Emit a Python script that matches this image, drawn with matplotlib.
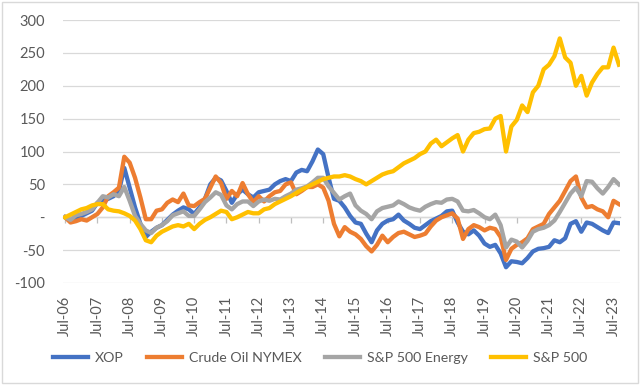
import numpy as np
import matplotlib
matplotlib.use("Agg")
import matplotlib.pyplot as plt
from matplotlib.ticker import FuncFormatter
from matplotlib.patches import Rectangle

plt.rcParams['font.family'] = ['Lato', 'DejaVu Sans']

# months since Jul-06, one value every 2 months (Jul-06 .. Sep-23)
months = np.arange(0, 207, 2)

xop = [0, -6, -2, 2, 6, 10, 22, 25, 28, 32, 40, 75,
       45, 15, -10, -30, -22, -16, -12, -4, 4, 10, 15, 12,
       5, 15, 28, 50, 60, 56, 40, 22, 35, 42, 35, 30,
       38, 40, 42, 50, 55, 58, 55, 68, 72, 70, 85, 103,
       96, 60, 28, 25, 15, 2, -8, -10, -25, -38, -20, -10,
       -5, -3, 4, -5, -10, -16, -18, -12, -6, -2, 2, 9,
       10, -8, -22, -26, -20, -28, -40, -45, -42, -55, -76, -67,
       -68, -70, -62, -52, -48, -47, -45, -35, -38, -32, -10, -6,
       -22, -8, -10, -15, -20, -24, -8, -9]

crude = [0, -8, -6, -3, -5, 0, 5, 15, 32, 38, 45, 92,
         83, 60, 30, -3, -3, 10, 12, 22, 27, 23, 36, 18,
         17, 23, 28, 45, 62, 52, 28, 40, 32, 52, 35, 23,
         32, 24, 32, 38, 40, 50, 53, 35, 40, 46, 46, 50,
         45, 25, -10, -29, -15, -22, -26, -33, -44, -52, -42, -28,
         -38, -30, -24, -22, -26, -30, -28, -25, -14, -5, 0, 3,
         6, -2, -33, -18, -12, -15, -20, -16, -18, -30, -65, -48,
         -42, -38, -32, -18, -14, -10, 5, 15, 25, 40, 55, 62,
         30, 15, 17, 12, 9, 0, 25, 20]

energy = [0, -4, 3, 5, 8, 12, 22, 32, 30, 35, 32, 46,
          25, 2, -10, -20, -24, -16, -12, -6, 3, 6, 9, 2,
          2, 12, 23, 30, 38, 34, 18, 12, 20, 24, 24, 17,
          24, 27, 25, 28, 27, 32, 36, 42, 44, 47, 53, 60,
          60, 47, 37, 27, 32, 36, 18, 10, 5, -3, 9, 14,
          16, 18, 24, 20, 15, 12, 10, 16, 20, 23, 22, 27,
          28, 24, 10, 9, 11, 6, 0, -3, 4, -12, -46, -34,
          -37, -46, -36, -22, -18, -16, -12, -5, 8, 22, 36, 45,
          32, 55, 54, 44, 36, 46, 58, 50]

sp500 = [0, 4, 8, 12, 14, 18, 20, 20, 12, 10, 9, 6,
         2, -5, -18, -35, -38, -28, -22, -18, -14, -12, -14, -10,
         -18, -10, -4, 0, 5, 10, 8, -3, 0, 4, 8, 6,
         6, 12, 14, 20, 24, 28, 32, 37, 42, 46, 50, 54,
         58, 60, 62, 62, 64, 62, 58, 55, 50, 55, 60, 65,
         68, 70, 76, 82, 86, 90, 96, 100, 112, 118, 108, 114,
         120, 125, 100, 118, 128, 130, 134, 135, 150, 154, 100, 138,
         148, 170, 160, 190, 200, 225, 232, 245, 272, 243, 235, 200,
         215, 185, 205, 218, 228, 228, 258, 232]

tick_months = np.arange(0, 205, 12)
tick_labels = ['Jul-06', 'Jul-07', 'Jul-08', 'Jul-09', 'Jul-10', 'Jul-11',
               'Jul-12', 'Jul-13', 'Jul-14', 'Jul-15', 'Jul-16', 'Jul-17',
               'Jul-18', 'Jul-19', 'Jul-20', 'Jul-21', 'Jul-22', 'Jul-23']

series = [('XOP', xop, '#4472C4'),
          ('Crude Oil NYMEX', crude, '#ED7D31'),
          ('S&P 500 Energy', energy, '#A5A5A5'),
          ('S&P 500', sp500, '#FFC000')]

fig = plt.figure(figsize=(6.4, 3.85), dpi=100)
ax = fig.add_axes([63 / 640, 1 - 283 / 385, 557 / 640, 263 / 385])

for name, vals, col in series:
    ax.plot(months, vals, color=col, lw=3.1, label=name, solid_joinstyle='round')

ax.set_ylim(-100, 300)
ax.set_yticks(np.arange(-100, 301, 50))
ax.yaxis.set_major_formatter(FuncFormatter(lambda v, p: '-' if v == 0 else f'{v:.0f}'))
ax.grid(axis='y', color='#D9D9D9', lw=0.9)
ax.set_axisbelow(True)
ax.set_xlim(-0.8, 206.4)

ax.set_xticks(tick_months)
ax.set_xticklabels(tick_labels, rotation=90)
ax.tick_params(axis='x', length=0, pad=9, labelsize=10.5, labelcolor='#595959')
ax.tick_params(axis='y', length=0, pad=13, labelsize=10.5, labelcolor='#595959')
for s in ax.spines.values():
    s.set_visible(False)

# category axis crossing at zero
zax = ax.secondary_xaxis(0.25)
zax.set_xticks(tick_months)
zax.set_xticklabels([])
zax.tick_params(axis='x', direction='out', length=4, color='#BFBFBF', width=0.9)
zax.spines['bottom'].set_color('#BFBFBF')
zax.spines['bottom'].set_linewidth(0.9)

fig.legend(loc='center', bbox_to_anchor=(0.5, 1 - 358 / 385), ncol=4, frameon=False,
           fontsize=10.2, handlelength=2.5, handletextpad=0.5, columnspacing=1.6,
           labelcolor='#595959')

fig.patches.append(Rectangle((0.003, 0.004), 0.994, 0.992, transform=fig.transFigure,
                             fill=False, edgecolor='#D9D9D9', lw=1))

fig.savefig('out.png', dpi=100)
